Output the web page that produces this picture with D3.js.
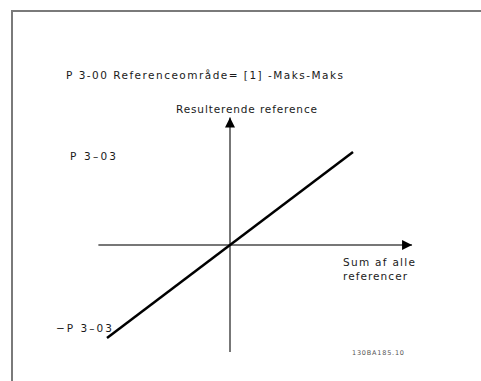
<!DOCTYPE html>
<html>
<head>
<meta charset="utf-8">
<script src="https://cdn.jsdelivr.net/npm/d3@7"></script>
<style>
  html, body { margin: 0; padding: 0; background: #fff; }
  svg { display: block; }
  text { font-family: "DejaVu Sans", sans-serif; fill: #1a1a1a; }
</style>
</head>
<body>
<svg id="chart" width="481" height="381"></svg>
<script>
// Reference characteristic: resulting reference vs. sum of all references
const titleText = "P 3-00 Referenceområde= [1] -Maks-Maks";
const yAxisTitle = "Resulterende reference";
const xAxisTitle = ["Sum af alle", "referencer"];
const yTickLabels = ["P 3\u201303", "\u2212P 3\u201303"];
const yTickValues = [1, -1];
const sumRefs = [-1, 1];          // x: sum of all references (normalised)
const resultRef = [-1, 1];        // y: resulting reference (normalised)
const xAxisExtent = [-1.07, 1.48];
const yAxisExtent = [-1.15, 1.37];
const figureId = "130BA185.10";

const svg = d3.select("#chart");

const x = d3.scaleLinear().domain([-1, 1]).range([107, 353]);
const y = d3.scaleLinear().domain([-1, 1]).range([338, 152]);

// outer frame (top and left edges)
svg.append("path")
  .attr("d", "M12,381 L12,11 L481,11")
  .attr("fill", "none")
  .attr("stroke", "#7a7a7a")
  .attr("stroke-width", 2);

svg.append("defs").append("marker")
  .attr("id", "arrow")
  .attr("viewBox", "0 0 10 10")
  .attr("refX", 10).attr("refY", 5)
  .attr("markerWidth", 19).attr("markerHeight", 10)
  .attr("markerUnits", "userSpaceOnUse")
  .attr("orient", "auto")
  .append("path")
  .attr("d", "M0,0 L10,5 L0,10 Z")
  .attr("fill", "#000");

// horizontal axis
svg.append("line")
  .attr("x1", x(xAxisExtent[0])).attr("x2", x(xAxisExtent[1]))
  .attr("y1", y(0)).attr("y2", y(0))
  .attr("stroke", "#777").attr("stroke-width", 2)
  .attr("marker-end", "url(#arrow)");

// vertical axis
svg.append("line")
  .attr("x1", x(0)).attr("x2", x(0))
  .attr("y1", y(yAxisExtent[0])).attr("y2", y(yAxisExtent[1]))
  .attr("stroke", "#777").attr("stroke-width", 2)
  .attr("marker-end", "url(#arrow)");

// characteristic line
const line = d3.line().x(d => x(d[0])).y(d => y(d[1]));
svg.append("path")
  .datum(sumRefs.map((v, i) => [v, resultRef[i]]))
  .attr("d", line)
  .attr("fill", "none")
  .attr("stroke", "#000")
  .attr("stroke-width", 2.5);

// texts (wide lettering, stretched with textLength)
svg.append("text")
  .attr("x", 66).attr("y", 79)
  .attr("textLength", 277).attr("lengthAdjust", "spacing")
  .style("font-size", "10.5px")
  .text(titleText);

svg.append("text")
  .attr("x", 176).attr("y", 113)
  .attr("textLength", 141).attr("lengthAdjust", "spacing")
  .style("font-size", "10.5px")
  .text(yAxisTitle);

const yLabX = [70, 56];
const yLabLen = [46, 56];
svg.selectAll(".ylab")
  .data(yTickValues)
  .join("text")
  .attr("class", "ylab")
  .attr("x", (d, i) => yLabX[i])
  .attr("y", d => y(d) + (d > 0 ? 8 : -6))
  .attr("textLength", (d, i) => yLabLen[i]).attr("lengthAdjust", "spacing")
  .style("font-size", "10.5px")
  .text((d, i) => yTickLabels[i]);

const xLabLen = [72, 64];
svg.selectAll(".xlab")
  .data(xAxisTitle)
  .join("text")
  .attr("class", "xlab")
  .attr("x", 343)
  .attr("y", (d, i) => 266 + i * 14)
  .attr("textLength", (d, i) => xLabLen[i]).attr("lengthAdjust", "spacing")
  .style("font-size", "10.5px")
  .text(d => d);

svg.append("text")
  .attr("x", 352).attr("y", 355)
  .attr("textLength", 52).attr("lengthAdjust", "spacing")
  .style("font-size", "6.5px")
  .style("fill", "#555")
  .text(figureId);
</script>
</body>
</html>
